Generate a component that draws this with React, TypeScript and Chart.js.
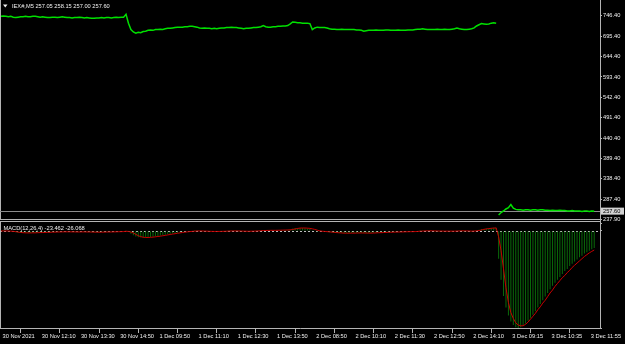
import React, { useEffect, useRef } from 'react';
import { Chart, registerables } from 'chart.js';

Chart.register(...registerables);

// ---------------- data ----------------
const titleMain = 'IEX#,M5 257.05 258.15 257.00 257.60';
const titleMacd = 'MACD(12,26,4) -23.462 -26.068';
const bidPrice = 257.6;

// bar indices of the time-axis labels (M5 bars)
const xTickBars = [0, 16, 32, 48, 64, 80, 96, 112, 128, 144, 160, 176, 192, 208, 224, 240];
const xTickLabels = [
  '30 Nov 2021', '30 Nov 12:10', '30 Nov 13:30', '30 Nov 14:50',
  '1 Dec 09:50', '1 Dec 11:10', '1 Dec 12:30', '1 Dec 13:50',
  '2 Dec 08:50', '2 Dec 10:10', '2 Dec 11:30', '2 Dec 12:50', '2 Dec 14:10',
  '3 Dec 09:15', '3 Dec 10:35', '3 Dec 11:55',
];

const priceTicks = [237.9, 287.4, 338.4, 389.4, 440.4, 491.4, 542.4, 593.4, 644.4, 695.4, 746.4];
const macdTicks = [-133.065, 0, 10.708];
const macdTickLabels = ['-133.065', '0.00', '10.708'];

// close prices, 30 Nov - 2 Dec (bars 0..202)
const priceA = [
  745, 746, 745, 744, 745, 743, 742, 743, 744, 744, 745, 744, 744, 745, 745, 744, 743, 744,
  743, 742, 742, 743, 743, 742, 743, 744, 743, 742, 742, 741, 742, 742, 743, 742, 741, 742, 741, 740,
  740, 741, 741, 742, 741, 742, 742, 741, 742, 743, 742, 743, 743,
  750, 728, 712, 706, 703, 705, 704, 707, 708, 710, 711, 710, 712, 712, 713, 712, 714, 715, 715, 716,
  717, 718, 718, 718, 719, 719, 720, 720, 719, 718, 716, 715,
  716, 715, 715, 714, 715, 714, 715, 716, 716, 717, 717, 718, 717, 717, 716, 715, 714, 715, 715, 716,
  717, 717, 718, 719, 722, 719, 718, 718, 719, 719, 720, 720, 721, 721, 722,
  726, 731, 730, 729, 729, 728, 728, 728, 727,
  712,
  716, 718, 717, 717, 717, 716, 714, 713, 713, 712, 712, 713, 712, 712, 712, 712, 712, 711, 711, 710,
  708, 709, 710,
  710, 710, 711, 710, 710, 710, 711, 711, 710, 710, 710, 711, 710, 710, 710, 711, 711,
  711, 712, 713, 713, 714, 713, 712, 712, 712, 712, 713, 712, 712, 713, 712, 712, 713, 714, 716, 714,
  713, 712, 712, 713, 714, 716,
  721, 724, 727, 726, 725, 726, 728, 729, 728,
];

// close prices, 3 Dec (bars 203..242)
const priceB = [
  248, 254, 258, 263, 266, 274, 265, 262, 261, 261, 260, 261, 261, 260, 261, 261, 260, 261, 261, 260,
  260, 259, 260, 259, 259, 260, 259, 259, 258, 258, 259, 258, 258, 258, 257, 258, 258, 257, 258, 257.6,
];

// MACD main (histogram), bars 0..242
const macd = [
  0.2, 0.1, 0, -0.3, -0.6,
  -1.2, -1.8, -2.3, -2.5, -2.6, -2.5, -2.6, -2.6, -2.4, -2.3, -2.2, -2.1, -2.0,
  -1.8, -1.7, -1.6, -1.4, -1.3, -1.3, -1.2, -1.0, -1.0, -1.1, -1.2, -1.3, -1.3, -1.3, -1.2, -1.2,
  -1.3, -1.3, -1.4, -1.6, -1.7, -1.7, -1.6, -1.5, -1.4, -1.3, -1.2, -1.2, -1.1, -1.0, -0.9, -0.8, -0.7,
  0.3, -1.3, -3.8, -5.9, -7.5, -8.5, -9.0, -9.1, -8.9, -8.6, -8.2, -7.8, -7.3, -6.8, -6.3, -5.7,
  -5.1, -4.5, -3.9, -3.4, -2.8, -2.3, -1.8, -1.4, -1.0, -0.6, -0.3, 0.0, 0.1, 0.1, 0.0, -0.2,
  -0.3, -0.4, -0.5, -0.6, -0.6, -0.6, -0.5, -0.4, -0.3, -0.1, 0.1, 0.2, 0.2, 0.1, -0.1, -0.3, -0.4,
  -0.4, -0.3, -0.2, 0.0, 0.2, 0.4, 0.6, 1.0, 0.9, 0.8, 0.8, 0.9, 1.0, 1.1, 1.2, 1.3, 1.4, 1.6,
  2.2, 3.4, 4.0, 4.2, 4.2, 4.0, 3.8, 3.5, 3.2,
  1.2,
  0.3, -0.1, -0.5, -0.8, -1.0, -1.3, -1.7, -2.1, -2.4, -2.7, -2.9, -2.9, -3.0, -3.0, -2.9, -2.8,
  -2.7, -2.6, -2.6, -2.7, -3.0, -3.0, -2.9,
  -2.7, -2.5, -2.3, -2.2, -2.0, -1.9, -1.7, -1.6, -1.5, -1.4, -1.3, -1.2, -1.1, -1.0, -1.0, -0.9, -0.8,
  -0.7, -0.5, -0.2, 0.1, 0.3, 0.3, 0.2, 0.1, 0.0, -0.1, -0.1, -0.1, -0.2, -0.2, -0.2, -0.2, -0.1,
  0.0, 0.3, 0.3, 0.1, -0.1, -0.2, -0.2, -0.1, 0.2,
  0.9, 1.8, 2.7, 3.2, 3.5, 3.8, 4.2, 4.5, 4.6,
  -38, -67, -89, -105, -116, -124, -129, -132, -133.065, -132, -130, -127, -123, -119, -115,
  -110, -105, -100, -95, -90, -85, -80, -75, -71, -67, -63, -59, -55, -52, -48,
  -45, -42, -39, -36, -34, -31, -29, -27, -25, -23.462,
];

// MACD signal line, bars 0..242
const signal = [
  0.1, 0.1, 0.1, 0, -0.2, -0.5, -0.9, -1.5, -2.0, -2.3, -2.5, -2.6, -2.6, -2.5, -2.5, -2.3, -2.2, -2.1,
  -2.0, -1.9, -1.8, -1.6, -1.5, -1.4, -1.3, -1.2, -1.1, -1.1, -1.1, -1.2, -1.2, -1.3, -1.3, -1.2,
  -1.2, -1.3, -1.3, -1.4, -1.5, -1.6, -1.6, -1.6, -1.5, -1.4, -1.3, -1.3, -1.2, -1.1, -1.0, -0.9, -0.8,
  -0.4, -0.6, -1.4, -2.7, -4.6, -6.4, -7.7, -8.5, -8.9, -8.9, -8.7, -8.4, -8.0, -7.5, -7.1, -6.5,
  -6.0, -5.4, -4.8, -4.2, -3.7, -3.1, -2.6, -2.1, -1.6, -1.2, -0.8, -0.5, -0.2, 0.0, 0.1, 0.0,
  -0.1, -0.2, -0.4, -0.5, -0.6, -0.6, -0.6, -0.5, -0.4, -0.3, -0.1, 0.0, 0.1, 0.1, 0.1, -0.1, -0.2,
  -0.3, -0.4, -0.3, -0.2, -0.1, 0.1, 0.3, 0.6, 0.7, 0.8, 0.9, 0.9, 0.9, 1.0, 1.1, 1.2, 1.3, 1.4,
  1.6, 2.1, 2.8, 3.5, 4.0, 4.1, 4.1, 3.9, 3.6,
  3.0,
  2.2, 1.2, 0.2, -0.3, -0.6, -0.9, -1.2, -1.5, -1.9, -2.2, -2.5, -2.7, -2.9, -3.0, -3.0, -2.9,
  -2.9, -2.8, -2.7, -2.7, -2.7, -2.8, -2.9,
  -2.9, -2.8, -2.6, -2.4, -2.3, -2.1, -2.0, -1.8, -1.7, -1.6, -1.5, -1.4, -1.3, -1.2, -1.1, -1.0, -0.9,
  -0.9, -0.8, -0.6, -0.3, -0.1, 0.1, 0.2, 0.2, 0.2, 0.1, 0.0, -0.1, -0.1, -0.2, -0.2, -0.2, -0.2,
  -0.2, -0.1, 0.1, 0.2, 0.2, 0.1, 0.0, -0.2, -0.1,
  0.2, 0.7, 1.4, 2.2, 2.9, 3.3, 3.7, 4.0, 4.2,
  -8, -27, -52, -78, -98, -112, -120, -126, -129, -130, -130, -128, -125, -121, -117,
  -113, -108, -104, -99, -95, -90, -85, -81, -76, -72, -68, -64, -61, -57, -54,
  -50, -47, -44, -41, -38, -35, -32.5, -30, -28, -26.068,
];

// ---------------- layout / style ----------------
const W = 625;
const H = 344;
const AREA_BOTTOM = 328; // bottom of plot area (time axis line)
const MAIN_BOTTOM = 219; // bottom of price pane
const MACD_TOP_LINE = 221; // top line of indicator pane
const PRICE_PER_PX = 2.5025;
const MACD_ZERO_PX = 231;
const MACD_PER_PX = 1.3718;
const X_MIN = -0.41;
const X_MAX = 244.36;

const FONT = { family: "'Liberation Sans', Arial, sans-serif", size: 5.7 };
const TEXT = '#f0f0f0';
const AXIS = '#b4b4b4';
const GREEN = '#00e000';
const HIST = '#0a6a0a';
const RED = '#c80000';

const P_MAX = priceTicks[0] + MAIN_BOTTOM * PRICE_PER_PX;
const P_MIN = priceTicks[0] - (AREA_BOTTOM - MAIN_BOTTOM) * PRICE_PER_PX;
const M_MIN = macdTicks[0];
const M_MAX = MACD_ZERO_PX * MACD_PER_PX;

const toXY = (start: number, arr: number[]) => arr.map((v, k) => ({ x: start + k, y: v }));

const panePlugin = {
  id: 'mt4panes',
  beforeDraw(chart: any) {
    const ctx = chart.ctx;
    ctx.save();
    ctx.fillStyle = '#000';
    ctx.fillRect(0, 0, chart.width, chart.height);
    ctx.restore();
  },
  beforeDatasetsDraw(chart: any) {
    const ctx = chart.ctx;
    const area = chart.chartArea;
    const ys = chart.scales.y;
    const y2 = chart.scales.y2;
    ctx.save();
    ctx.lineWidth = 1;
    ctx.strokeStyle = AXIS;
    // pane frames
    ctx.beginPath();
    ctx.moveTo(area.left + 0.5, area.top);
    ctx.lineTo(area.left + 0.5, MAIN_BOTTOM + 0.5);
    ctx.moveTo(area.left, MAIN_BOTTOM + 0.5);
    ctx.lineTo(area.right, MAIN_BOTTOM + 0.5);
    ctx.moveTo(area.left, MACD_TOP_LINE + 0.5);
    ctx.lineTo(area.right, MACD_TOP_LINE + 0.5);
    ctx.moveTo(area.left + 0.5, MACD_TOP_LINE + 0.5);
    ctx.lineTo(area.left + 0.5, area.bottom);
    ctx.stroke();
    // bid line
    const by = Math.round(ys.getPixelForValue(bidPrice)) + 0.5;
    ctx.strokeStyle = '#8c8c8c';
    ctx.beginPath();
    ctx.moveTo(area.left, by);
    ctx.lineTo(area.right, by);
    ctx.stroke();
    // zero level of MACD
    const zy = Math.round(y2.getPixelForValue(0)) + 0.5;
    ctx.strokeStyle = '#bdbdbd';
    ctx.setLineDash([2, 2]);
    ctx.beginPath();
    ctx.moveTo(area.left, zy);
    ctx.lineTo(area.right, zy);
    ctx.stroke();
    ctx.restore();
  },
  afterDraw(chart: any) {
    const ctx = chart.ctx;
    const area = chart.chartArea;
    const ys = chart.scales.y;
    const y2 = chart.scales.y2;
    ctx.save();
    ctx.font = `${FONT.size}px ${FONT.family}`;
    ctx.textBaseline = 'middle';
    ctx.textAlign = 'left';
    // triangle + title
    ctx.fillStyle = TEXT;
    ctx.beginPath();
    ctx.moveTo(3, 4.5);
    ctx.lineTo(7.5, 4.5);
    ctx.lineTo(5.25, 7.5);
    ctx.closePath();
    ctx.fill();
    ctx.fillText(titleMain, 12, 6.5);
    ctx.fillText(titleMacd, 3.5, y2.getPixelForValue(0) - 3);
    // bid price label
    const by = ys.getPixelForValue(bidPrice);
    ctx.fillStyle = '#d2d2d2';
    ctx.fillRect(area.right + 1, by - 3.5, 23, 7);
    ctx.fillStyle = '#000';
    ctx.fillText(bidPrice.toFixed(2), area.right + 3, by);
    ctx.restore();
  },
};

export default function App() {
  const ref = useRef<HTMLCanvasElement>(null);

  useEffect(() => {
    document.body.style.margin = '0';
    document.body.style.background = '#000';
    const canvas = ref.current;
    if (!canvas) return;

    const chart = new Chart(canvas, {
      type: 'bar',
      data: {
        datasets: [
          {
            type: 'line',
            label: 'IEX# 30 Nov - 2 Dec',
            data: toXY(0, priceA),
            yAxisID: 'y',
            borderColor: GREEN,
            borderWidth: 1.5,
            pointRadius: 0,
            tension: 0,
            order: 1,
          } as any,
          {
            type: 'line',
            label: 'IEX# 3 Dec',
            data: toXY(priceA.length, priceB),
            yAxisID: 'y',
            borderColor: GREEN,
            borderWidth: 1.5,
            pointRadius: 0,
            tension: 0,
            order: 1,
          } as any,
          {
            type: 'line',
            label: 'Signal',
            data: toXY(0, signal),
            yAxisID: 'y2',
            borderColor: RED,
            borderWidth: 1,
            pointRadius: 0,
            tension: 0,
            order: 2,
          } as any,
          {
            type: 'bar',
            label: 'MACD',
            data: toXY(0, macd),
            yAxisID: 'y2',
            backgroundColor: HIST,
            borderWidth: 0,
            barThickness: 1,
            inflateAmount: 0,
            order: 3,
          } as any,
        ],
      },
      options: {
        responsive: false,
        animation: false,
        events: [],
        layout: { padding: 0 },
        plugins: { legend: { display: false }, tooltip: { enabled: false } },
        scales: {
          x: {
            type: 'linear',
            position: 'bottom',
            min: X_MIN,
            max: X_MAX,
            bounds: 'data',
            offset: false,
            afterBuildTicks: (s: any) => {
              s.ticks = xTickBars.map((v) => ({ value: v }));
            },
            afterFit: (s: any) => {
              s.height = H - AREA_BOTTOM;
              s.paddingLeft = 0;
              s.paddingRight = 0;
            },
            grid: { drawOnChartArea: false, drawTicks: true, tickLength: 5, color: AXIS },
            border: { display: true, color: AXIS },
            ticks: {
              autoSkip: false,
              maxRotation: 0,
              minRotation: 0,
              align: 'start',
              labelOffset: 1.5,
              padding: 0,
              color: TEXT,
              font: FONT,
              callback: (_v: any, i: number) => xTickLabels[i],
            },
          },
          y: {
            type: 'linear',
            position: 'right',
            weight: 1,
            min: P_MIN,
            max: P_MAX,
            bounds: 'data',
            afterBuildTicks: (s: any) => {
              s.ticks = priceTicks.map((v) => ({ value: v }));
            },
            afterFit: (s: any) => {
              s.width = W - 600;
              s.paddingTop = 0;
              s.paddingBottom = 0;
            },
            grid: { drawOnChartArea: false, drawTicks: true, tickLength: 2, color: AXIS },
            border: { display: true, color: AXIS },
            ticks: {
              autoSkip: false,
              padding: 1,
              color: TEXT,
              font: FONT,
              callback: (v: any) => Number(v).toFixed(2),
            },
          },
          y2: {
            type: 'linear',
            position: 'right',
            weight: 0,
            min: M_MIN,
            max: M_MAX,
            bounds: 'data',
            afterBuildTicks: (s: any) => {
              s.ticks = macdTicks.map((v) => ({ value: v }));
            },
            afterFit: (s: any) => {
              s.width = 0;
              s.paddingTop = 0;
              s.paddingBottom = 0;
            },
            grid: { drawOnChartArea: false, drawTicks: true, tickLength: 2, color: AXIS },
            border: { display: false },
            ticks: {
              autoSkip: false,
              padding: 1,
              color: TEXT,
              font: FONT,
              callback: (_v: any, i: number) => macdTickLabels[i],
            },
          },
        },
      } as any,
      plugins: [panePlugin],
    });

    return () => chart.destroy();
  }, []);

  return (
    <div style={{ width: W, height: H, background: '#000', overflow: 'hidden' }}>
      <canvas ref={ref} width={W} height={H} style={{ display: 'block', width: W, height: H }} />
    </div>
  );
}
